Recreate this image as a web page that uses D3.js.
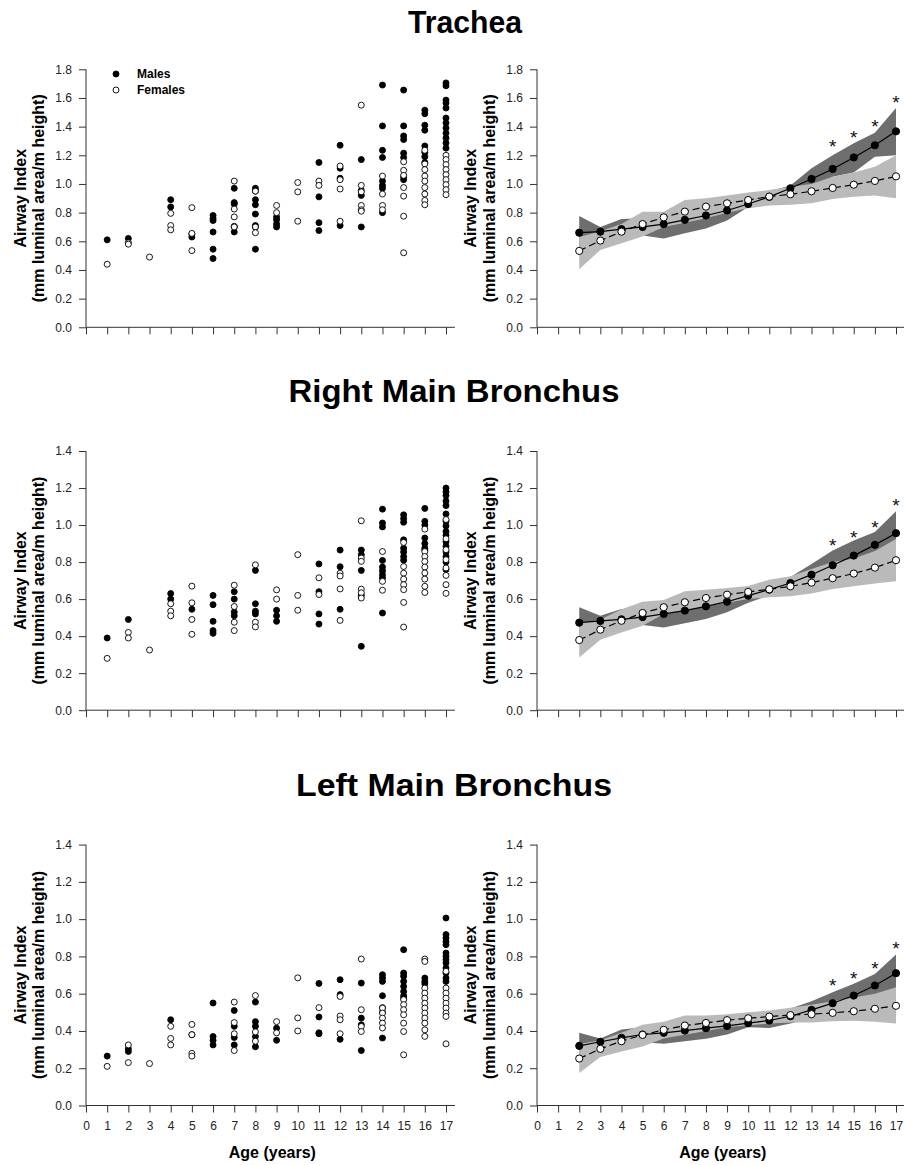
<!DOCTYPE html>
<html><head><meta charset="utf-8">
<script src="https://cdn.jsdelivr.net/npm/d3@7/dist/d3.min.js"></script>
<style>
html,body{margin:0;padding:0;background:#fff;}
svg{display:block;font-family:"Liberation Sans",Arial,sans-serif;}
</style></head>
<body>
<svg id="c" width="904" height="1165"></svg>
<script>
// ---------------- DATA ----------------
const ages = d3.range(1, 18);          // scatter ages 1..17
const meanAges = d3.range(2, 18);      // mean/CI ages 2..17
const starAges = [14, 15, 16, 17];
const xTicks = d3.range(0, 18);
const titles = ["Trachea", "Right Main Bronchus", "Left Main Bronchus"];
const yMaxes = [1.8, 1.4, 1.4];
const yLabel1 = "Airway Index";
const yLabel2 = "(mm luminal area/m height)";
const xLabel = "Age (years)";
const legendLabels = ["Males", "Females"];

// Trachea scatter (index = age-1)
const tracheaMales = [
  [0.61],[0.62],[],[0.89,0.84],[0.63,0.65],
  [0.78,0.76,0.745,0.665,0.545,0.48],
  [0.97,0.87,0.86,0.70,0.665],
  [0.97,0.95,0.89,0.855,0.79,0.71,0.70,0.545],
  [0.77,0.75,0.72,0.70],[],
  [1.15,0.91,0.73,0.675],
  [1.27,1.11,1.04,0.71],
  [1.17,0.955,0.92,0.70],
  [1.69,1.405,1.235,1.185,1.02,0.99,0.97,0.80],
  [1.655,1.405,1.335,1.31,1.215,1.185,1.05,1.03],
  [1.515,1.49,1.41,1.375,1.265,1.22,1.19,1.15],
  [1.705,1.685,1.585,1.565,1.53,1.46,1.425,1.39,1.355,1.32,1.285,1.25]
];
const tracheaFemales = [
  [0.44],[0.59,0.58],[0.49],[0.795,0.71,0.68],[0.835,0.655,0.535],
  [],
  [1.02,0.825,0.77,0.705,0.70],
  [0.95,0.70,0.66],
  [0.85,0.80],
  [1.01,0.945,0.74],
  [1.02,0.99],
  [1.125,1.03,0.965,0.74],
  [1.55,0.99,0.945,0.85,0.82,0.81],
  [1.055,0.93,0.85,0.82],
  [1.155,1.095,1.06,0.975,0.915,0.775,0.52],
  [1.235,1.14,1.10,1.055,1.02,0.975,0.93,0.885,0.855],
  [1.20,1.17,1.135,1.10,1.065,1.03,0.995,0.96,0.925]
];
// Trachea means and bands (ages 2..17)
const tracheaMaleMean   = [0.66,0.667,0.685,0.70,0.72,0.75,0.78,0.815,0.86,0.91,0.97,1.035,1.105,1.185,1.27,1.367];
const tracheaFemaleMean = [0.533,0.605,0.667,0.72,0.767,0.807,0.842,0.865,0.888,0.912,0.928,0.949,0.972,0.995,1.021,1.053];
const tracheaMaleLo   = [0.55,0.63,0.62,0.64,0.62,0.656,0.69,0.745,0.84,0.86,0.91,0.96,1.05,1.08,1.19,1.20];
const tracheaMaleHi   = [0.777,0.70,0.755,0.76,0.80,0.83,0.86,0.89,0.90,0.95,0.99,1.109,1.20,1.284,1.358,1.53];
const tracheaFemaleLo = [0.405,0.54,0.586,0.633,0.70,0.73,0.76,0.80,0.83,0.85,0.855,0.865,0.895,0.91,0.919,0.90];
const tracheaFemaleHi = [0.63,0.67,0.72,0.807,0.807,0.888,0.90,0.919,0.94,0.958,0.98,1.0,1.05,1.08,1.12,1.20];
const tracheaStars = [1.288,1.353,1.428,1.598];

// Right main bronchus scatter
const rmbMales = [
  [0.39],[0.49],[],[0.63,0.60],[0.545],
  [0.62,0.57,0.48,0.43,0.415],
  [0.64,0.60,0.53,0.51],
  [0.755,0.575,0.535,0.52],
  [0.54,0.51,0.48],[],
  [0.79,0.64,0.52,0.465],
  [0.865,0.775,0.545],
  [0.865,0.84,0.755,0.62,0.345],
  [1.086,1.011,0.99,0.809,0.773,0.753,0.732,0.714,0.525],
  [1.055,1.035,1.015,0.92,0.875,0.855,0.83,0.81],
  [1.09,1.02,1.00,0.93,0.90,0.875,0.865],
  [1.20,1.18,1.16,1.13,1.105,1.06,1.02,0.995,0.965,0.945,0.91,0.885,0.855,0.83,0.80,0.76]
];
const rmbFemales = [
  [0.28],[0.42,0.39],[0.325],[0.575,0.535,0.51],[0.67,0.58,0.49,0.41],
  [],
  [0.675,0.56,0.475,0.43],
  [0.785,0.475,0.45],
  [0.65,0.60],
  [0.84,0.62,0.54],
  [0.715,0.625],
  [0.74,0.725,0.655,0.485],
  [1.023,0.822,0.804,0.654,0.634,0.606],
  [0.857,0.696,0.648],
  [0.906,0.776,0.74,0.708,0.678,0.651,0.582,0.449],
  [0.978,0.857,0.83,0.803,0.773,0.741,0.708,0.669,0.636],
  [1.03,0.926,0.867,0.813,0.768,0.728,0.678,0.631]
];
const rmbMaleMean   = [0.473,0.482,0.491,0.503,0.52,0.538,0.561,0.586,0.619,0.651,0.687,0.732,0.783,0.835,0.893,0.956];
const rmbFemaleMean = [0.379,0.435,0.483,0.525,0.556,0.583,0.606,0.624,0.639,0.653,0.669,0.689,0.713,0.738,0.77,0.81];
const rmbMaleLo   = [0.40,0.45,0.44,0.46,0.447,0.469,0.493,0.529,0.58,0.62,0.655,0.68,0.72,0.76,0.82,0.85];
const rmbMaleHi   = [0.556,0.51,0.547,0.54,0.58,0.60,0.62,0.64,0.66,0.68,0.72,0.79,0.862,0.916,0.962,1.075];
const rmbFemaleLo = [0.285,0.38,0.42,0.456,0.52,0.54,0.56,0.58,0.60,0.61,0.615,0.63,0.655,0.67,0.685,0.696];
const rmbFemaleHi = [0.47,0.49,0.545,0.586,0.595,0.642,0.65,0.66,0.671,0.705,0.723,0.763,0.80,0.82,0.86,0.925];
const rmbStars = [0.913,0.956,1.007,1.129];

// Left main bronchus scatter
const lmbMales = [
  [0.265],[0.305,0.29],[],[0.46],[0.38],
  [0.55,0.37,0.35,0.325],
  [0.51,0.425,0.365,0.325],
  [0.555,0.45,0.425,0.37,0.315],
  [0.415,0.35],[],
  [0.655,0.475,0.39,0.385],
  [0.675,0.595,0.355],
  [0.657,0.469,0.433,0.295],
  [0.702,0.684,0.666,0.589,0.525,0.50,0.362],
  [0.836,0.711,0.694,0.666,0.639,0.612,0.589,0.576],
  [0.684,0.666,0.653],
  [1.006,0.917,0.899,0.881,0.863,0.818,0.80,0.783,0.765,0.738,0.711,0.684,0.666]
];
const lmbFemales = [
  [0.21],[0.325,0.23],[0.225],[0.425,0.36,0.325],[0.435,0.38,0.28,0.265],
  [],
  [0.555,0.445,0.385,0.295],
  [0.59,0.395,0.345],
  [0.45,0.39],
  [0.685,0.47,0.40],
  [0.525],
  [0.585,0.48,0.46,0.385],
  [0.786,0.514,0.424,0.397],
  [0.523,0.496,0.469,0.442,0.416],
  [0.568,0.541,0.514,0.487,0.442,0.397,0.272],
  [0.786,0.773,0.63,0.603,0.576,0.549,0.523,0.496,0.469,0.442,0.406,0.371],
  [0.72,0.63,0.603,0.576,0.549,0.523,0.496,0.478,0.331]
];
const lmbMaleMean   = [0.32,0.342,0.363,0.381,0.39,0.402,0.415,0.427,0.442,0.456,0.479,0.513,0.549,0.59,0.644,0.71];
const lmbFemaleMean = [0.252,0.304,0.345,0.379,0.406,0.429,0.443,0.458,0.468,0.477,0.485,0.49,0.497,0.506,0.519,0.535];
const lmbMaleLo   = [0.25,0.32,0.32,0.34,0.331,0.345,0.358,0.381,0.42,0.416,0.44,0.47,0.49,0.53,0.58,0.62];
const lmbMaleHi   = [0.39,0.36,0.408,0.42,0.44,0.45,0.46,0.47,0.48,0.50,0.52,0.56,0.608,0.653,0.706,0.81];
const lmbFemaleLo = [0.175,0.26,0.29,0.316,0.36,0.38,0.40,0.42,0.43,0.44,0.445,0.445,0.452,0.455,0.45,0.44];
const lmbFemaleHi = [0.33,0.35,0.39,0.433,0.45,0.483,0.483,0.49,0.50,0.51,0.525,0.54,0.56,0.58,0.60,0.635];
const lmbStars = [0.667,0.703,0.756,0.864];

// ---------------- LAYOUT ----------------
const svg = d3.select("#c");
const FONT = '"Liberation Sans",Arial,sans-serif';
const cols = [
  {x0: 86, x17: 446, axisEnd: 17.42, lab1: 20, lab2: 38},
  {x0: 537, x17: 896, axisEnd: 18.5, lab1: 470, lab2: 489}
];
const rows = [
  {yb: 327.3, yt: 69.3, titleY: 33, titleW: 114, scatterM: tracheaMales, scatterF: tracheaFemales,
   mm: tracheaMaleMean, fm: tracheaFemaleMean, mlo: tracheaMaleLo, mhi: tracheaMaleHi,
   flo: tracheaFemaleLo, fhi: tracheaFemaleHi, stars: tracheaStars},
  {yb: 710.2, yt: 451.0, titleY: 402, titleW: 331, scatterM: rmbMales, scatterF: rmbFemales,
   mm: rmbMaleMean, fm: rmbFemaleMean, mlo: rmbMaleLo, mhi: rmbMaleHi,
   flo: rmbFemaleLo, fhi: rmbFemaleHi, stars: rmbStars},
  {yb: 1105.5, yt: 844.6, titleY: 796, titleW: 316, scatterM: lmbMales, scatterF: lmbFemales,
   mm: lmbMaleMean, fm: lmbFemaleMean, mlo: lmbMaleLo, mhi: lmbMaleHi,
   flo: lmbFemaleLo, fhi: lmbFemaleHi, stars: lmbStars}
];
const DARK = "#6e6e6e", LIGHT = "#bababa", AXIS = "#333";

rows.forEach((row, ri) => {
  // title
  svg.append("text").attr("x", 452 + (ri === 0 ? 13 : 2)).attr("y", row.titleY)
    .attr("text-anchor", "middle").attr("font-family", FONT)
    .attr("font-weight", "bold").attr("font-size", 31).attr("fill", "#000")
    .attr("textLength", row.titleW).attr("lengthAdjust", "spacingAndGlyphs")
    .text(titles[ri]);

  cols.forEach((col, ci) => {
    const x = d3.scaleLinear().domain([0, 17]).range([col.x0, col.x17]);
    const y = d3.scaleLinear().domain([0, yMaxes[ri]]).range([row.yb, row.yt]);
    const g = svg.append("g");

    if (ci === 1) {
      const mBand = meanAges.map((a, i) => ({a, lo: row.mlo[i], hi: row.mhi[i]}));
      const fBand = meanAges.map((a, i) => ({a, lo: row.flo[i], hi: row.fhi[i]}));
      const area = d3.area().x(d => x(d.a)).y0(d => y(d.lo)).y1(d => y(d.hi));
      g.append("path").datum(mBand).attr("d", area).attr("fill", DARK);
      g.append("path").datum(fBand).attr("d", area).attr("fill", LIGHT);
      const mPts = meanAges.map((a, i) => ({a, v: row.mm[i]}));
      const fPts = meanAges.map((a, i) => ({a, v: row.fm[i]}));
      const line = d3.line().x(d => x(d.a)).y(d => y(d.v));
      g.append("path").datum(mPts).attr("d", line).attr("fill", "none")
        .attr("stroke", "#000").attr("stroke-width", 1.2);
      g.append("path").datum(fPts).attr("d", line).attr("fill", "none")
        .attr("stroke", "#000").attr("stroke-width", 1.2).attr("stroke-dasharray", "7,4");
      g.selectAll(".mm").data(mPts).enter().append("circle")
        .attr("cx", d => x(d.a)).attr("cy", d => y(d.v)).attr("r", 3.6)
        .attr("fill", "#000").attr("stroke", "#000").attr("stroke-width", 1);
      g.selectAll(".fm").data(fPts).enter().append("circle")
        .attr("cx", d => x(d.a)).attr("cy", d => y(d.v)).attr("r", 3.6)
        .attr("fill", "#fff").attr("stroke", "#000").attr("stroke-width", 1);
      g.selectAll(".star").data(starAges.map((a, i) => ({a, v: row.stars[i]}))).enter()
        .append("text").attr("x", d => x(d.a)).attr("y", d => y(d.v) + 10.5)
        .attr("text-anchor", "middle").attr("font-family", FONT)
        .attr("font-size", 19).attr("fill", "#111").text("*");
    } else {
      const mPts = [], fPts = [];
      ages.forEach((a, i) => {
        row.scatterM[i].forEach(v => mPts.push({a, v}));
        row.scatterF[i].forEach(v => fPts.push({a, v}));
      });
      g.selectAll(".sm").data(mPts).enter().append("circle")
        .attr("cx", d => x(d.a)).attr("cy", d => y(d.v)).attr("r", 3)
        .attr("fill", "#000").attr("stroke", "#000").attr("stroke-width", 0.9);
      g.selectAll(".sf").data(fPts).enter().append("circle")
        .attr("cx", d => x(d.a)).attr("cy", d => y(d.v)).attr("r", 3)
        .attr("fill", "#fff").attr("stroke", "#000").attr("stroke-width", 0.9);
    }

    // y axis
    const ya = g.append("g").attr("transform", `translate(${col.x0},0)`)
      .call(d3.axisLeft(y).tickValues(d3.range(0, yMaxes[ri] + 0.001, 0.2))
        .tickFormat(d3.format(".1f")).tickSize(7).tickPadding(7));
    ya.select(".domain").attr("d", `M0,${row.yb}V${row.yt}`).attr("stroke", AXIS);
    ya.selectAll(".tick line").attr("stroke", AXIS);
    ya.selectAll("text").attr("font-family", FONT).attr("font-size", 12).attr("fill", "#222");

    // x axis
    const xa = g.append("g").attr("transform", `translate(0,${row.yb})`)
      .call(d3.axisBottom(x).tickValues(xTicks).tickSize(7).tickPadding(9)
        .tickFormat(ri === 2 ? d3.format("d") : () => ""));
    xa.select(".domain").attr("d", `M${col.x0},0H${x(col.axisEnd)}`).attr("stroke", AXIS);
    xa.selectAll(".tick line").attr("stroke", AXIS);
    xa.selectAll("text").attr("font-family", FONT).attr("font-size", 12).attr("fill", "#222");

    // y label
    const midY = (row.yb + row.yt) / 2;
    [[col.lab1, yLabel1], [col.lab2, yLabel2]].forEach(([lx, t]) => {
      svg.append("text").attr("transform", `translate(${lx},${midY}) rotate(-90)`)
        .attr("dy", "0.35em").attr("text-anchor", "middle").attr("font-family", FONT)
        .attr("font-weight", "bold").attr("font-size", 16).attr("fill", "#000").text(t);
    });

    if (ri === 2) {
      svg.append("text").attr("x", x(8.8)).attr("y", 1158)
        .attr("text-anchor", "middle").attr("font-family", FONT)
        .attr("font-weight", "bold").attr("font-size", 16).attr("fill", "#000").text(xLabel);
    }

    if (ri === 0 && ci === 0) {
      const lg = svg.append("g");
      legendLabels.forEach((t, i) => {
        lg.append("circle").attr("cx", 116).attr("cy", 74 + i * 16).attr("r", 3)
          .attr("fill", i === 0 ? "#000" : "#fff").attr("stroke", "#000").attr("stroke-width", 0.9);
        lg.append("text").attr("x", 137).attr("y", 78 + i * 16).attr("font-family", FONT)
          .attr("font-weight", "bold").attr("font-size", 12).attr("fill", "#000").text(t);
      });
    }
  });
});
</script>
</body></html>
